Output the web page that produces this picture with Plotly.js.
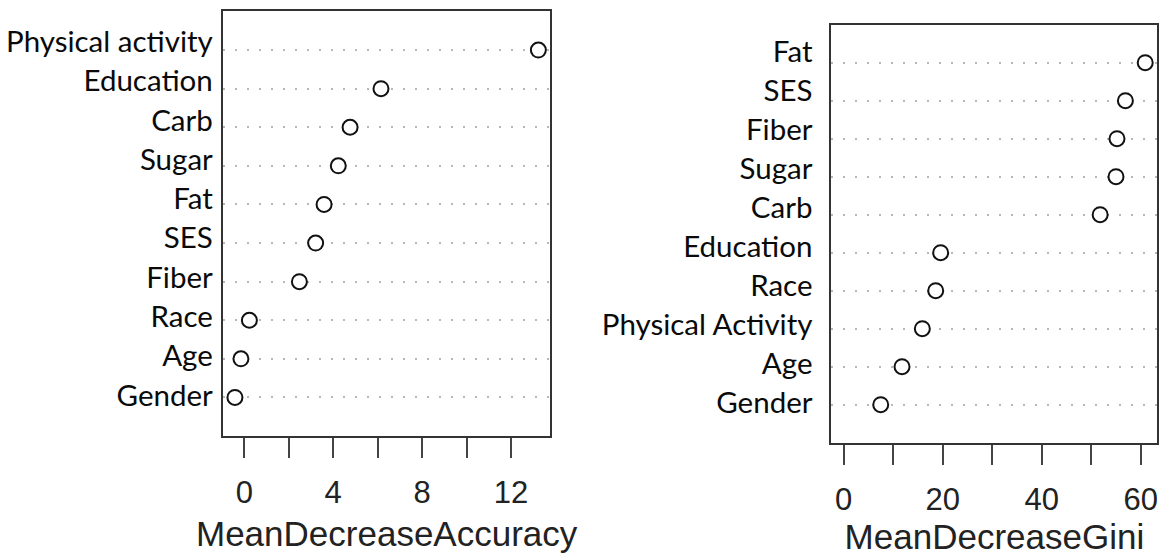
<!DOCTYPE html>
<html>
<head>
<meta charset="utf-8">
<script src="https://cdn.plot.ly/plotly-3.0.1.min.js"></script>
<style>
  html, body { margin: 0; padding: 0; background: #fff; }
  #chart { width: 1167px; height: 556px; }
</style>
</head>
<body>
<div id="chart"></div>
<script>
// Variable importance from a random forest, two measures side by side.
// Rows are listed top to bottom as they appear in each dot chart.
const accuracyLabels = ['Physical activity', 'Education', 'Carb', 'Sugar', 'Fat', 'SES', 'Fiber', 'Race', 'Age', 'Gender'];
const accuracyValues = [13.23, 6.15, 4.76, 4.23, 3.59, 3.21, 2.48, 0.23, -0.15, -0.42];
const accuracyTicks = [0, 4, 8, 12];

const giniLabels = ['Fat', 'SES', 'Fiber', 'Sugar', 'Carb', 'Education', 'Race', 'Physical Activity', 'Age', 'Gender'];
const giniValues = [60.9, 56.9, 55.2, 55.0, 51.8, 19.6, 18.6, 15.9, 11.8, 7.5];
const giniTicks = [0, 20, 40, 60];

const labelFont = { family: 'Lato, "Open Sans", sans-serif', size: 29.5, color: '#0a0a0a' };
const numFont = { family: '"Liberation Sans", Arial, sans-serif', size: 31, color: '#222' };
const titleFont = { family: '"Liberation Sans", Arial, sans-serif', size: 35, color: '#222' };
const boxColor = '#333';

const dotMarker = { symbol: 'circle', size: 15, color: '#fff', line: { color: '#111', width: 2 } };

function dots(x, y, xa, ya) {
  return { type: 'scatter', mode: 'markers', x: x, y: y, xaxis: xa, yaxis: ya,
           marker: dotMarker, hoverinfo: 'x+y', cliponaxis: false };
}
// Invisible carrier so the overlaid label axes know their categories.
function labelCarrier(x, y, xa, ya) {
  return { type: 'scatter', mode: 'markers', x: x, y: y, xaxis: xa, yaxis: ya,
           marker: { opacity: 0 }, hoverinfo: 'skip' };
}

const data = [
  labelCarrier(accuracyValues, accuracyLabels, 'x', 'y3'),
  labelCarrier(giniValues, giniLabels, 'x2', 'y4'),
  dots(accuracyValues, accuracyLabels, 'x', 'y'),
  dots(giniValues, giniLabels, 'x2', 'y2')
];

function valueAxis(domain, anchor, range, ticks, minorStep, title, standoff) {
  return {
    domain: domain, anchor: anchor, range: range,
    tickmode: 'array', tickvals: ticks, ticktext: ticks.map(String),
    ticks: 'outside', ticklen: 20, tickwidth: 2, tickcolor: '#444',
    minor: { dtick: minorStep, tick0: 0, ticks: 'outside', ticklen: 20, tickwidth: 2, tickcolor: '#444', showgrid: false },
    tickfont: numFont, ticklabelstandoff: 8,
    showline: true, mirror: true, linecolor: boxColor, linewidth: 2,
    showgrid: false, zeroline: false, fixedrange: true,
    title: { text: title, font: titleFont, standoff: standoff }
  };
}
function rowAxis(domain, anchor, cats) {
  return {
    domain: domain, anchor: anchor, type: 'category',
    categoryorder: 'array', categoryarray: cats, range: [10, -1],
    showticklabels: false, ticks: '',
    showgrid: true, gridcolor: '#b8b8b8', gridwidth: 2, griddash: '2px,10px',
    showline: true, mirror: true, linecolor: boxColor, linewidth: 2,
    zeroline: false, fixedrange: true
  };
}
function labelAxis(over, anchor, cats, range, standoff) {
  return {
    overlaying: over, anchor: anchor, side: 'left', type: 'category',
    categoryorder: 'array', categoryarray: cats, range: range,
    ticks: '', showgrid: false, showline: false, zeroline: false,
    tickfont: labelFont, ticklabelstandoff: standoff, fixedrange: true
  };
}

const layout = {
  width: 1167, height: 556,
  margin: { l: 0, r: 0, t: 0, b: 0 },
  paper_bgcolor: '#fff', plot_bgcolor: '#fff',
  showlegend: false,
  xaxis: valueAxis([0.19092, 0.47172], 'y', [-0.966, 13.776], accuracyTicks, 2, 'MeanDecreaseAccuracy', 12),
  yaxis: rowAxis([0.21583, 0.97932], 'x', accuracyLabels),
  yaxis3: labelAxis('y', 'x', accuracyLabels, [10.036, -0.769], 9),
  xaxis2: valueAxis([0.71251, 0.99169], 'y2', [-2.44, 63.34], giniTicks, 10, 'MeanDecreaseGini', 10),
  yaxis2: rowAxis([0.20378, 0.95558], 'x2', giniLabels),
  yaxis4: labelAxis('y2', 'x2', giniLabels, [10.021, -0.678], 18)
};

Plotly.newPlot('chart', data, layout, { displayModeBar: false, staticPlot: true });
</script>
</body>
</html>
